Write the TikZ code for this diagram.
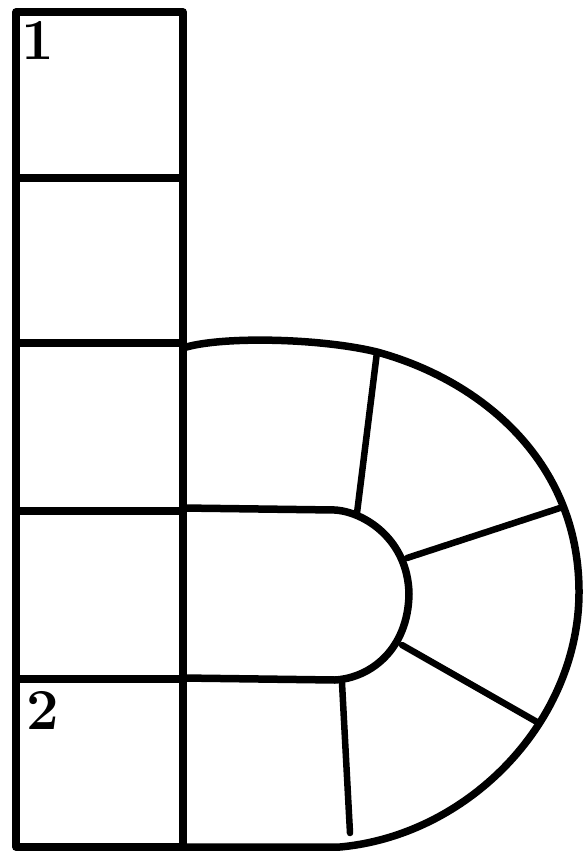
\documentclass[tikz,border=0pt]{standalone}
\begin{document}
\begin{tikzpicture}[x=1pt,y=-1pt,
  ink/.style={line width=7.5pt,line join=round,line cap=round,black},
  thin ink/.style={line width=6.5pt,line cap=round,black},
  numlabel/.style={font=\fontsize{58}{58}\selectfont\bfseries,inner sep=0pt}]
\useasboundingbox (0,0) rectangle (583,854);
% left column
\coordinate (tl) at (16,12);
\coordinate (br) at (183,847);
\draw[ink] (tl) rectangle (br);
\foreach \y in {178,343,511,679}{
  \draw[ink] (16,\y) -- (183,\y);
}
% outer bowl
\coordinate (o0) at (183,348);
\coordinate (o1) at (377,352);
\coordinate (o2) at (579,590);
\coordinate (oend) at (340,847);
\draw[ink] (o0) .. controls (220,336) and (320,338) .. (o1)
  .. controls (480,380) and (578,460) .. (o2)
  .. controls (580,720) and (470,835) .. (oend) -- (br);
% inner bowl
\coordinate (i0) at (183,508);
\coordinate (i1) at (335,510);
\coordinate (i2) at (409,594);
\coordinate (i3) at (335,680);
\coordinate (i4) at (183,678);
\draw[ink] (i0) -- (i1) .. controls (365,512) and (408,540) .. (i2)
  .. controls (408,650) and (370,678) .. (i3) -- (i4);
% radial dividers
\coordinate (r1a) at (377,352); \coordinate (r1b) at (357,513);
\coordinate (r2a) at (407,558); \coordinate (r2b) at (563,507);
\coordinate (r3a) at (402,645); \coordinate (r3b) at (537,722);
\coordinate (r4a) at (342,683); \coordinate (r4b) at (350,833);
\draw[thin ink] (r1a) -- (r1b);
\draw[thin ink] (r2a) -- (r2b);
\draw[thin ink] (r3a) -- (r3b);
\draw[thin ink] (r4a) -- (r4b);
% labels
\node[numlabel] (one) at (38,40) {1};
\node[numlabel] (two) at (43,710) {2};
\end{tikzpicture}
\end{document}
